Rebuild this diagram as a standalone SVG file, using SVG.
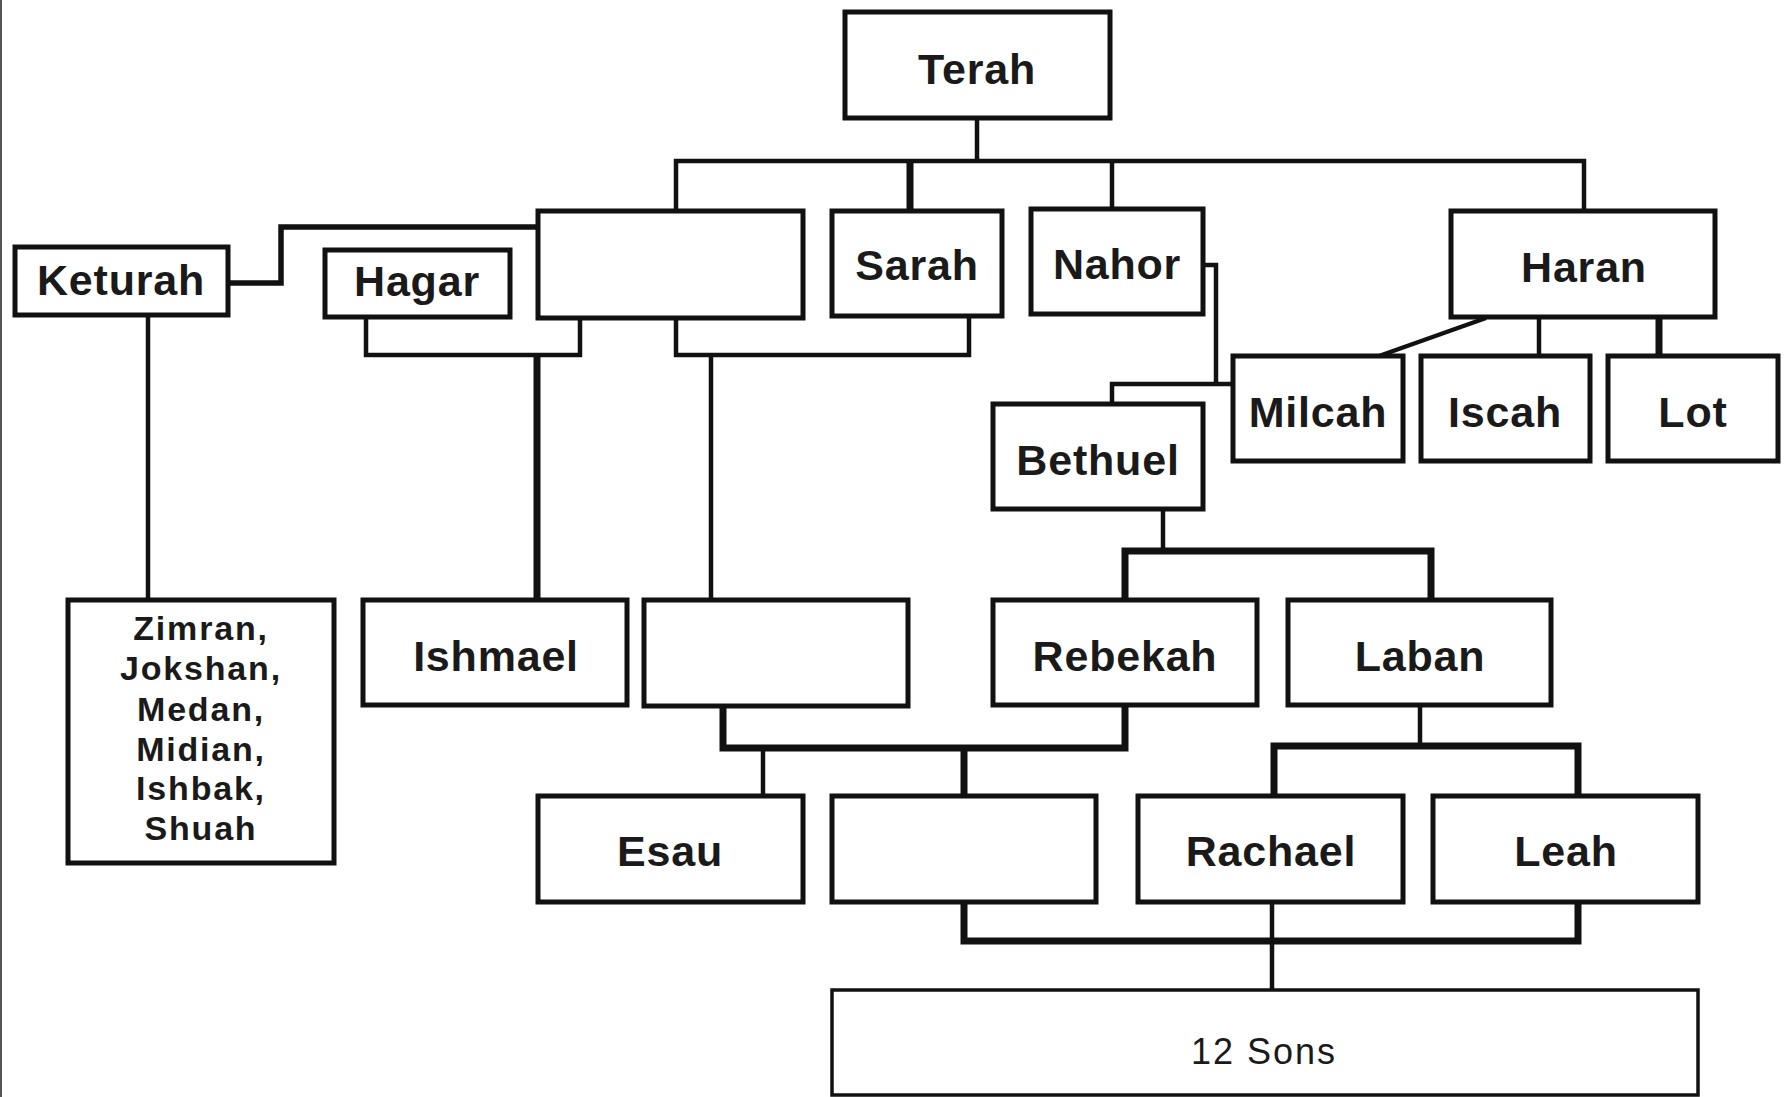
<svg xmlns="http://www.w3.org/2000/svg" width="1785" height="1097" viewBox="0 0 1785 1097">
<style>
.box{fill:#fff;stroke:#111;stroke-width:5}
.ln{fill:none;stroke:#111;stroke-width:4.5;stroke-linejoin:miter}
.tk{fill:none;stroke:#111;stroke-width:7;stroke-linejoin:miter}
.lb{font-family:"Liberation Sans",Arial,sans-serif;font-weight:bold;font-size:43px;letter-spacing:0.8px;fill:#1a1a1a;text-anchor:middle}
.sm{font-family:"Liberation Sans",Arial,sans-serif;font-weight:bold;font-size:34px;letter-spacing:1.8px;fill:#1a1a1a;text-anchor:middle}
.sn{font-family:"Liberation Sans",Arial,sans-serif;font-size:36px;letter-spacing:2px;fill:#1a1a1a;text-anchor:middle}
</style>
<rect x="0" y="0" width="1785" height="1097" fill="#fff"/>
<rect x="0" y="0" width="2" height="1097" fill="#555"/>
<g id="connectors">
  <path class="ln" d="M977 118V161M676 210V161H1584V210"/>
  <path class="tk" d="M910 161V210"/>
  <path class="ln" d="M1112 161V209"/>
  <path class="ln" d="M228 283H281V227H538" style="stroke-width:5.5"/>
  <path class="ln" d="M148 315V600"/>
  <path class="ln" d="M366 317V355H580V318"/>
  <path class="tk" d="M537 355V600"/>
  <path class="ln" d="M676 318V355H969V316"/>
  <path class="ln" d="M711 355V600"/>
  <path class="ln" d="M1203 265H1216V384H1233M1216 384H1112V404"/>
  <path class="ln" d="M1486 318L1379 356"/>
  <path class="ln" d="M1539 317V356"/>
  <path class="tk" d="M1659 317V356"/>
  <path class="ln" d="M1163 509V551"/>
  <path class="tk" d="M1125 600V551H1431V600"/>
  <path class="tk" d="M723 706V748H1125V706"/>
  <path class="ln" d="M763 748V796"/>
  <path class="tk" d="M964 748V796"/>
  <path class="ln" d="M1420 706V746"/>
  <path class="tk" d="M1274 796V746H1578V796"/>
  <path class="tk" d="M964 902V941H1578V902"/>
  <path class="ln" d="M1272 902V990"/>
</g>
<g id="terah"><rect class="box" x="845" y="12" width="265" height="106"/><text class="lb" x="977" y="84">Terah</text></g>
<g id="keturah"><rect class="box" x="15" y="247" width="213" height="68"/><text class="lb" x="121" y="295">Keturah</text></g>
<g id="hagar"><rect class="box" x="325" y="250" width="185" height="67"/><text class="lb" x="417" y="296">Hagar</text></g>
<g id="abraham"><rect class="box" x="538" y="211" width="265" height="107"/></g>
<g id="sarah"><rect class="box" x="832" y="211" width="170" height="105"/><text class="lb" x="917" y="280">Sarah</text></g>
<g id="nahor"><rect class="box" x="1031" y="209" width="172" height="105"/><text class="lb" x="1117" y="279">Nahor</text></g>
<g id="haran"><rect class="box" x="1451" y="211" width="264" height="106"/><text class="lb" x="1584" y="282">Haran</text></g>
<g id="milcah"><rect class="box" x="1233" y="356" width="170" height="105"/><text class="lb" x="1318" y="427">Milcah</text></g>
<g id="iscah"><rect class="box" x="1421" y="356" width="169" height="105"/><text class="lb" x="1505" y="427">Iscah</text></g>
<g id="lot"><rect class="box" x="1608" y="356" width="170" height="105"/><text class="lb" x="1693" y="427">Lot</text></g>
<g id="bethuel"><rect class="box" x="993" y="404" width="210" height="105"/><text class="lb" x="1098" y="475">Bethuel</text></g>
<g id="keturah-sons"><rect class="box" x="68" y="600" width="266" height="263"/>
<text class="sm" x="201" y="640">Zimran,</text>
<text class="sm" x="201" y="680">Jokshan,</text>
<text class="sm" x="201" y="721">Medan,</text>
<text class="sm" x="201" y="761">Midian,</text>
<text class="sm" x="201" y="800">Ishbak,</text>
<text class="sm" x="201" y="840">Shuah</text></g>
<g id="ishmael"><rect class="box" x="363" y="600" width="264" height="105"/><text class="lb" x="496" y="671">Ishmael</text></g>
<g id="isaac"><rect class="box" x="644" y="600" width="264" height="106"/></g>
<g id="rebekah"><rect class="box" x="993" y="600" width="264" height="105"/><text class="lb" x="1125" y="671">Rebekah</text></g>
<g id="laban"><rect class="box" x="1288" y="600" width="263" height="105"/><text class="lb" x="1420" y="671">Laban</text></g>
<g id="esau"><rect class="box" x="538" y="796" width="265" height="106"/><text class="lb" x="670" y="866">Esau</text></g>
<g id="jacob"><rect class="box" x="832" y="796" width="264" height="106"/></g>
<g id="rachael"><rect class="box" x="1138" y="796" width="265" height="106"/><text class="lb" x="1271" y="866">Rachael</text></g>
<g id="leah"><rect class="box" x="1433" y="796" width="265" height="106"/><text class="lb" x="1566" y="866">Leah</text></g>
<g id="sons"><rect class="box" x="832" y="990" width="866" height="105" style="stroke-width:3.5"/><text class="sn" x="1264" y="1064">12 Sons</text></g>
</svg>
